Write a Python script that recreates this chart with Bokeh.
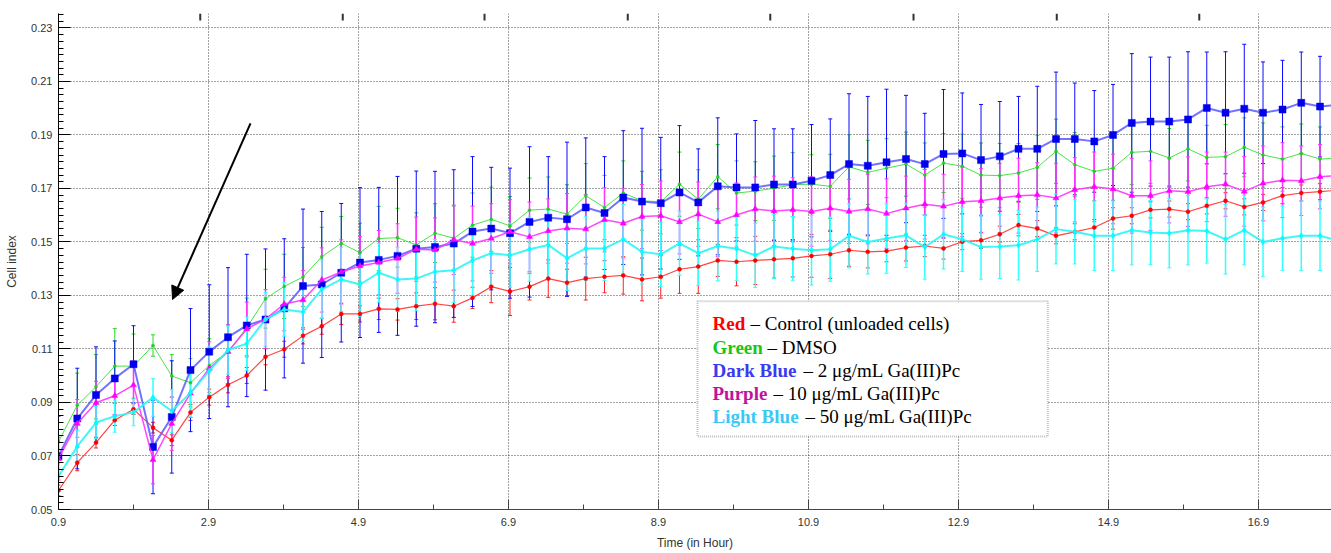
from bokeh.plotting import figure
from bokeh.models import (FixedTicker, Range1d, Whisker, ColumnDataSource,
                          BoxAnnotation, Label, Arrow, NormalHead, TeeHead)
from bokeh.embed import file_html
from bokeh.resources import INLINE
import numpy as np

# Sampling times (hours)
hours = [0.90, 1.15, 1.40, 1.65, 1.90, 2.16, 2.41, 2.66, 2.91, 3.16, 3.41, 3.66, 3.91, 4.16,
         4.41, 4.67, 4.92, 5.17, 5.42, 5.67, 5.92, 6.17, 6.42, 6.67, 6.92, 7.18, 7.43, 7.68,
         7.93, 8.18, 8.43, 8.68, 8.93, 9.18, 9.43, 9.69, 9.94, 10.19, 10.44, 10.69, 10.94,
         11.19, 11.44, 11.69, 11.94, 12.20, 12.45, 12.70, 12.95, 13.20, 13.45, 13.70, 13.95,
         14.20, 14.45, 14.71, 14.96, 15.21, 15.46, 15.71, 15.96, 16.21, 16.46, 16.71, 16.96,
         17.22, 17.47, 17.72, 17.97]

# Cell index – Control (unloaded cells)
red_ci = [0.0571, 0.0675, 0.0750, 0.0834, 0.0875, 0.0806, 0.0759, 0.0863, 0.0920, 0.0966,
          0.1001, 0.1071, 0.1099, 0.1149, 0.1185, 0.1231, 0.1231, 0.1250, 0.1248, 0.1260,
          0.1269, 0.1260, 0.1291, 0.1333, 0.1315, 0.1333, 0.1363, 0.1348, 0.1363, 0.1370,
          0.1375, 0.1360, 0.1370, 0.1398, 0.1408, 0.1431, 0.1426, 0.1431, 0.1435, 0.1439,
          0.1448, 0.1454, 0.1469, 0.1463, 0.1466, 0.1479, 0.1485, 0.1476, 0.1501, 0.1506,
          0.1529, 0.1563, 0.1550, 0.1523, 0.1538, 0.1554, 0.1588, 0.1598, 0.1620, 0.1623,
          0.1613, 0.1635, 0.1654, 0.1631, 0.1648, 0.1673, 0.1683, 0.1688, 0.1694]
red_err = [0.002, 0.003, 0.002, 0.002, 0.002, 0.002, 0.002, 0.003, 0.003, 0.003, 0.003,
           0.003, 0.003, 0.003, 0.003, 0.004, 0.003, 0.004, 0.004, 0.005, 0.006, 0.006,
           0.004, 0.006, 0.009, 0.005, 0.007, 0.005, 0.008, 0.006, 0.007, 0.008, 0.008,
           0.009, 0.010, 0.006, 0.009, 0.009, 0.007, 0.007, 0.008, 0.009, 0.006, 0.006,
           0.004, 0.005, 0.004, 0.004, 0.003, 0.003, 0.003, 0.004, 0.003, 0.003, 0.003,
           0.003, 0.004, 0.003, 0.003, 0.003, 0.003, 0.003, 0.003, 0.003, 0.003, 0.003,
           0.003, 0.003, 0.003]

# Cell index – DMSO
green_ci = [0.0753, 0.0890, 0.0959, 0.1036, 0.1036, 0.1113, 0.0999, 0.0974, 0.1038, 0.1090,
            0.1180, 0.1288, 0.1334, 0.1369, 0.1445, 0.1495, 0.1460, 0.1513, 0.1516, 0.1489,
            0.1533, 0.1514, 0.1563, 0.1585, 0.1560, 0.1619, 0.1623, 0.1604, 0.1673, 0.1629,
            0.1683, 0.1654, 0.1650, 0.1716, 0.1660, 0.1744, 0.1683, 0.1690, 0.1701, 0.1714,
            0.1716, 0.1708, 0.1781, 0.1760, 0.1776, 0.1791, 0.1750, 0.1795, 0.1783, 0.1750,
            0.1748, 0.1758, 0.1779, 0.1839, 0.1789, 0.1764, 0.1776, 0.1835, 0.1839, 0.1814,
            0.1848, 0.1816, 0.1819, 0.1854, 0.1825, 0.1810, 0.1831, 0.1810, 0.1813]
green_err = [0.012, 0.012, 0.012, 0.014, 0.012, 0.004, 0.008, 0.009, 0.010, 0.010, 0.011,
             0.011, 0.012, 0.011, 0.011, 0.010, 0.011, 0.012, 0.011, 0.012, 0.011, 0.012,
             0.012, 0.012, 0.011, 0.012, 0.012, 0.011, 0.012, 0.012, 0.012, 0.011, 0.012,
             0.012, 0.011, 0.012, 0.012, 0.011, 0.012, 0.012, 0.011, 0.012, 0.012, 0.012,
             0.011, 0.012, 0.012, 0.011, 0.012, 0.012, 0.012, 0.011, 0.012, 0.012, 0.012,
             0.011, 0.012, 0.012, 0.012, 0.011, 0.012, 0.012, 0.012, 0.011, 0.012, 0.012,
             0.011, 0.012, 0.012]

# Cell index – 2 µg/mL Ga(III)Pc
blue_ci = [0.0699, 0.0840, 0.0928, 0.0990, 0.1043, 0.0734, 0.0846, 0.1021, 0.1090, 0.1144,
           0.1188, 0.1210, 0.1252, 0.1335, 0.1341, 0.1385, 0.1423, 0.1433, 0.1448, 0.1475,
           0.1481, 0.1494, 0.1539, 0.1550, 0.1533, 0.1575, 0.1591, 0.1585, 0.1629, 0.1608,
           0.1666, 0.1651, 0.1645, 0.1685, 0.1648, 0.1708, 0.1704, 0.1704, 0.1715, 0.1715,
           0.1729, 0.1750, 0.1791, 0.1785, 0.1798, 0.1810, 0.1791, 0.1829, 0.1831, 0.1806,
           0.1820, 0.1848, 0.1848, 0.1885, 0.1885, 0.1876, 0.1900, 0.1945, 0.1950, 0.1950,
           0.1958, 0.2001, 0.1983, 0.1998, 0.1983, 0.1995, 0.2020, 0.2006, 0.2013]
blue_err = [0.0150, 0.0188, 0.0180, 0.0140, 0.0144, 0.0175, 0.0210, 0.0230, 0.0250, 0.0260,
            0.0266, 0.0264, 0.0260, 0.0288, 0.0273, 0.0259, 0.0280, 0.0271, 0.0297, 0.0290,
            0.0283, 0.0276, 0.0280, 0.0229, 0.0243, 0.0281, 0.0228, 0.0288, 0.0260, 0.0211,
            0.0250, 0.0274, 0.0246, 0.0250, 0.0200, 0.0256, 0.0200, 0.0250, 0.0208, 0.0208,
            0.0210, 0.0210, 0.0263, 0.0259, 0.0273, 0.0238, 0.0190, 0.0241, 0.0226, 0.0208,
            0.0205, 0.0196, 0.0234, 0.0250, 0.0209, 0.0190, 0.0189, 0.0259, 0.0241, 0.0241,
            0.0253, 0.0209, 0.0228, 0.0241, 0.0190, 0.0184, 0.0190, 0.0188, 0.0190]

# Cell index – 10 µg/mL Ga(III)Pc
purple_ci = [0.0690, 0.0821, 0.0899, 0.0925, 0.0965, 0.0686, 0.0821, 0.0934, 0.1027, 0.1090,
             0.1175, 0.1212, 0.1268, 0.1283, 0.1358, 0.1388, 0.1410, 0.1423, 0.1438, 0.1473,
             0.1470, 0.1508, 0.1494, 0.1513, 0.1538, 0.1519, 0.1541, 0.1551, 0.1548, 0.1583,
             0.1570, 0.1595, 0.1598, 0.1575, 0.1604, 0.1575, 0.1601, 0.1623, 0.1616, 0.1620,
             0.1614, 0.1626, 0.1614, 0.1623, 0.1606, 0.1626, 0.1641, 0.1633, 0.1650, 0.1654,
             0.1664, 0.1673, 0.1676, 0.1664, 0.1695, 0.1706, 0.1698, 0.1673, 0.1673, 0.1691,
             0.1688, 0.1706, 0.1716, 0.1689, 0.1719, 0.1731, 0.1729, 0.1744, 0.1748]
purple_err = [0.008, 0.009, 0.008, 0.007, 0.009, 0.009, 0.010, 0.009, 0.010, 0.010, 0.010,
              0.011, 0.010, 0.011, 0.012, 0.012, 0.011, 0.012, 0.013, 0.012, 0.012, 0.013,
              0.014, 0.013, 0.012, 0.013, 0.012, 0.013, 0.013, 0.012, 0.013, 0.012, 0.013,
              0.012, 0.012, 0.013, 0.012, 0.012, 0.013, 0.012, 0.013, 0.012, 0.012, 0.013,
              0.013, 0.012, 0.013, 0.012, 0.013, 0.012, 0.013, 0.014, 0.012, 0.013, 0.012,
              0.013, 0.013, 0.014, 0.013, 0.012, 0.013, 0.013, 0.012, 0.013, 0.014, 0.014,
              0.013, 0.012, 0.012]

# Cell index – 50 µg/mL Ga(III)Pc
cyan_ci = [0.0624, 0.0736, 0.0825, 0.0849, 0.0863, 0.0919, 0.0868, 0.0936, 0.1018, 0.1096,
           0.1120, 0.1211, 0.1248, 0.1238, 0.1323, 0.1360, 0.1341, 0.1385, 0.1360, 0.1363,
           0.1389, 0.1394, 0.1431, 0.1458, 0.1450, 0.1473, 0.1489, 0.1439, 0.1476, 0.1476,
           0.1510, 0.1463, 0.1454, 0.1495, 0.1458, 0.1485, 0.1475, 0.1450, 0.1483, 0.1475,
           0.1469, 0.1473, 0.1523, 0.1500, 0.1513, 0.1525, 0.1481, 0.1529, 0.1510, 0.1481,
           0.1483, 0.1488, 0.1510, 0.1548, 0.1538, 0.1523, 0.1523, 0.1544, 0.1535, 0.1533,
           0.1544, 0.1541, 0.1510, 0.1544, 0.1500, 0.1514, 0.1523, 0.1523, 0.1504]
cyan_err = [0.005, 0.006, 0.006, 0.006, 0.005, 0.007, 0.008, 0.009, 0.009, 0.009, 0.010,
            0.010, 0.010, 0.011, 0.011, 0.012, 0.012, 0.011, 0.012, 0.012, 0.012, 0.012,
            0.013, 0.012, 0.012, 0.012, 0.013, 0.012, 0.012, 0.012, 0.013, 0.012, 0.012,
            0.012, 0.012, 0.013, 0.012, 0.012, 0.012, 0.012, 0.013, 0.012, 0.012, 0.012,
            0.013, 0.012, 0.012, 0.013, 0.012, 0.012, 0.012, 0.013, 0.012, 0.013, 0.012,
            0.013, 0.013, 0.013, 0.012, 0.013, 0.013, 0.012, 0.013, 0.013, 0.013, 0.012,
            0.013, 0.013, 0.013]

x_ticks = [0.9, 2.9, 4.9, 6.9, 8.9, 10.9, 12.9, 14.9, 16.9]
x_minor = [1.9, 3.9, 5.9, 7.9, 9.9, 11.9, 13.9, 15.9, 17.9]
y_ticks = [0.05, 0.07, 0.09, 0.11, 0.13, 0.15, 0.17, 0.19, 0.21, 0.23]
top_ticks = [2.79, 4.69, 6.58, 8.49, 10.39, 12.30, 14.21, 16.11]

for arr in (red_ci, red_err, green_ci, green_err, blue_ci, blue_err,
            purple_ci, purple_err, cyan_ci, cyan_err):
    assert len(arr) == len(hours), len(arr)

Y_MIN, Y_MAX = 0.05, 0.2354

p = figure(width=1331, height=553, output_backend="svg", toolbar_location=None,
           x_range=Range1d(0.9, 17.873), y_range=Range1d(Y_MIN, Y_MAX),
           min_border_left=58, min_border_right=0, min_border_top=13, min_border_bottom=44)
p.outline_line_color = None
p.background_fill_color = "white"
p.border_fill_color = "white"

# axes
minor_y = [round(v, 4) for v in np.arange(0.05, 0.2354, 0.0025)]
p.xaxis.ticker = FixedTicker(ticks=x_ticks, minor_ticks=x_minor)
p.yaxis.ticker = FixedTicker(ticks=y_ticks, minor_ticks=minor_y)
for ax in (p.xaxis[0], p.yaxis[0]):
    ax.major_tick_out = 0
    ax.minor_tick_out = 0
    ax.major_label_text_font = "Liberation Sans"
    ax.major_label_text_font_size = "11px"
    ax.major_label_text_color = "#333333"
    ax.axis_label_text_font = "Liberation Sans"
    ax.axis_label_text_font_size = "12px"
    ax.axis_label_text_font_style = "normal"
    ax.axis_label_text_color = "#333333"
p.xaxis.major_tick_in = 10
p.xaxis.minor_tick_in = 5
p.xaxis.axis_line_color = "#444444"
p.xaxis.major_tick_line_color = "#444444"
p.xaxis.minor_tick_line_color = "#444444"
p.xaxis.major_label_standoff = 8
p.xaxis.axis_label = "Time (in Hour)"
p.xaxis.axis_label_standoff = 7
p.yaxis.major_tick_in = 12
p.yaxis.minor_tick_in = 5
p.yaxis.axis_line_color = "black"
p.yaxis.major_tick_line_color = "black"
p.yaxis.minor_tick_line_color = "black"
p.yaxis.major_label_standoff = 6
p.yaxis.axis_label = "Cell index"
p.yaxis.axis_label_standoff = 9

p.xgrid.ticker = FixedTicker(ticks=x_ticks)
p.ygrid.ticker = FixedTicker(ticks=y_ticks)
for g in (p.xgrid[0], p.ygrid[0]):
    g.grid_line_color = "#444444"
    g.grid_line_dash = "1 2"
    g.grid_line_width = 1

# short inward tick marks along the top edge
p.segment(x0=top_ticks, x1=top_ticks, y0=[Y_MAX] * len(top_ticks),
          y1=[Y_MAX - 0.0026] * len(top_ticks), line_color="#333333", line_width=2)

series = [
    ("green", green_ci, green_err, "#28d828", "#33e033", 1.0, "circle", 3),
    ("red", red_ci, red_err, "#ff2020", "#ff3030", 1.2, "circle", 4),
    ("blue", blue_ci, blue_err, "#0a0aff", "#5a5aff", 2.0, "square", 7),
    ("purple", purple_ci, purple_err, "#ff33ff", "#ff33ff", 1.5, "triangle", 6),
    ("cyan", cyan_ci, cyan_err, "#33ffff", "#2ef5f5", 2.0, "diamond", 6),
]

sources = {}
for name, ci, err, bar_col, line_col, lw, mk, ms in series:
    src = ColumnDataSource(dict(t=hours, ci=ci,
                                lo=[c - e for c, e in zip(ci, err)],
                                hi=[c + e for c, e in zip(ci, err)]))
    sources[name] = src
    bw = 1.0 if name in ("green", "red", "blue") else 1.5
    p.add_layout(Whisker(source=src, base="t", lower="lo", upper="hi",
                         line_color=bar_col, line_width=bw,
                         upper_head=TeeHead(size=4, line_color=bar_col, line_width=1),
                         lower_head=TeeHead(size=4, line_color=bar_col, line_width=1)))

for name, ci, err, bar_col, line_col, lw, mk, ms in series:
    src = sources[name]
    p.line("t", "ci", source=src, line_color=line_col, line_width=lw,
           line_alpha=0.9 if name != "blue" else 0.85)
    mcol = {"blue": "#0000ee", "red": "#ff0000", "green": "#22cc22",
            "purple": "#ff00ff", "cyan": "#00ffff"}[name]
    p.scatter("t", "ci", source=src, marker=mk, size=ms, fill_color=mcol,
              line_color=mcol, line_width=0.5)

# arrow pointing at the early dip
p.add_layout(Arrow(end=NormalHead(size=13, fill_color="black", line_color="black"),
                   x_start=3.46, y_start=0.1943, x_end=2.42, y_end=0.1285,
                   line_color="black", line_width=2))

# key box
p.add_layout(BoxAnnotation(left=9.42, right=14.09, top=0.1278, bottom=0.0773,
                           fill_color="white", fill_alpha=1.0, line_color="#333333",
                           line_width=2, line_dash="1 1"))

key_rows = [
    ("Red", "#ff0000", "– Control (unloaded cells)", 38),
    ("Green", "#16c816", "– DMSO", 55),
    ("Dark Blue", "#3a3af0", "– 2 μg/mL Ga(III)Pc", 91),
    ("Purple", "#c0129c", "– 10 μg/mL Ga(III)Pc", 61),
    ("Light Blue", "#3cc8f5", "– 50 μg/mL Ga(III)Pc", 93),
]
row_y = [0.1195, 0.1106, 0.1019, 0.0933, 0.0847]
for (word, col, rest, off), yy in zip(key_rows, row_y):
    p.add_layout(Label(x=9.62, y=yy, text=word, text_font="Liberation Serif",
                       text_font_style="bold", text_font_size="19px", text_color=col,
                       text_baseline="middle"))
    p.add_layout(Label(x=9.62, y=yy, x_offset=off, text=rest, text_font="Liberation Serif",
                       text_font_size="19px", text_color="black", text_baseline="middle"))

open("out.html", "w").write(file_html(p, INLINE))
